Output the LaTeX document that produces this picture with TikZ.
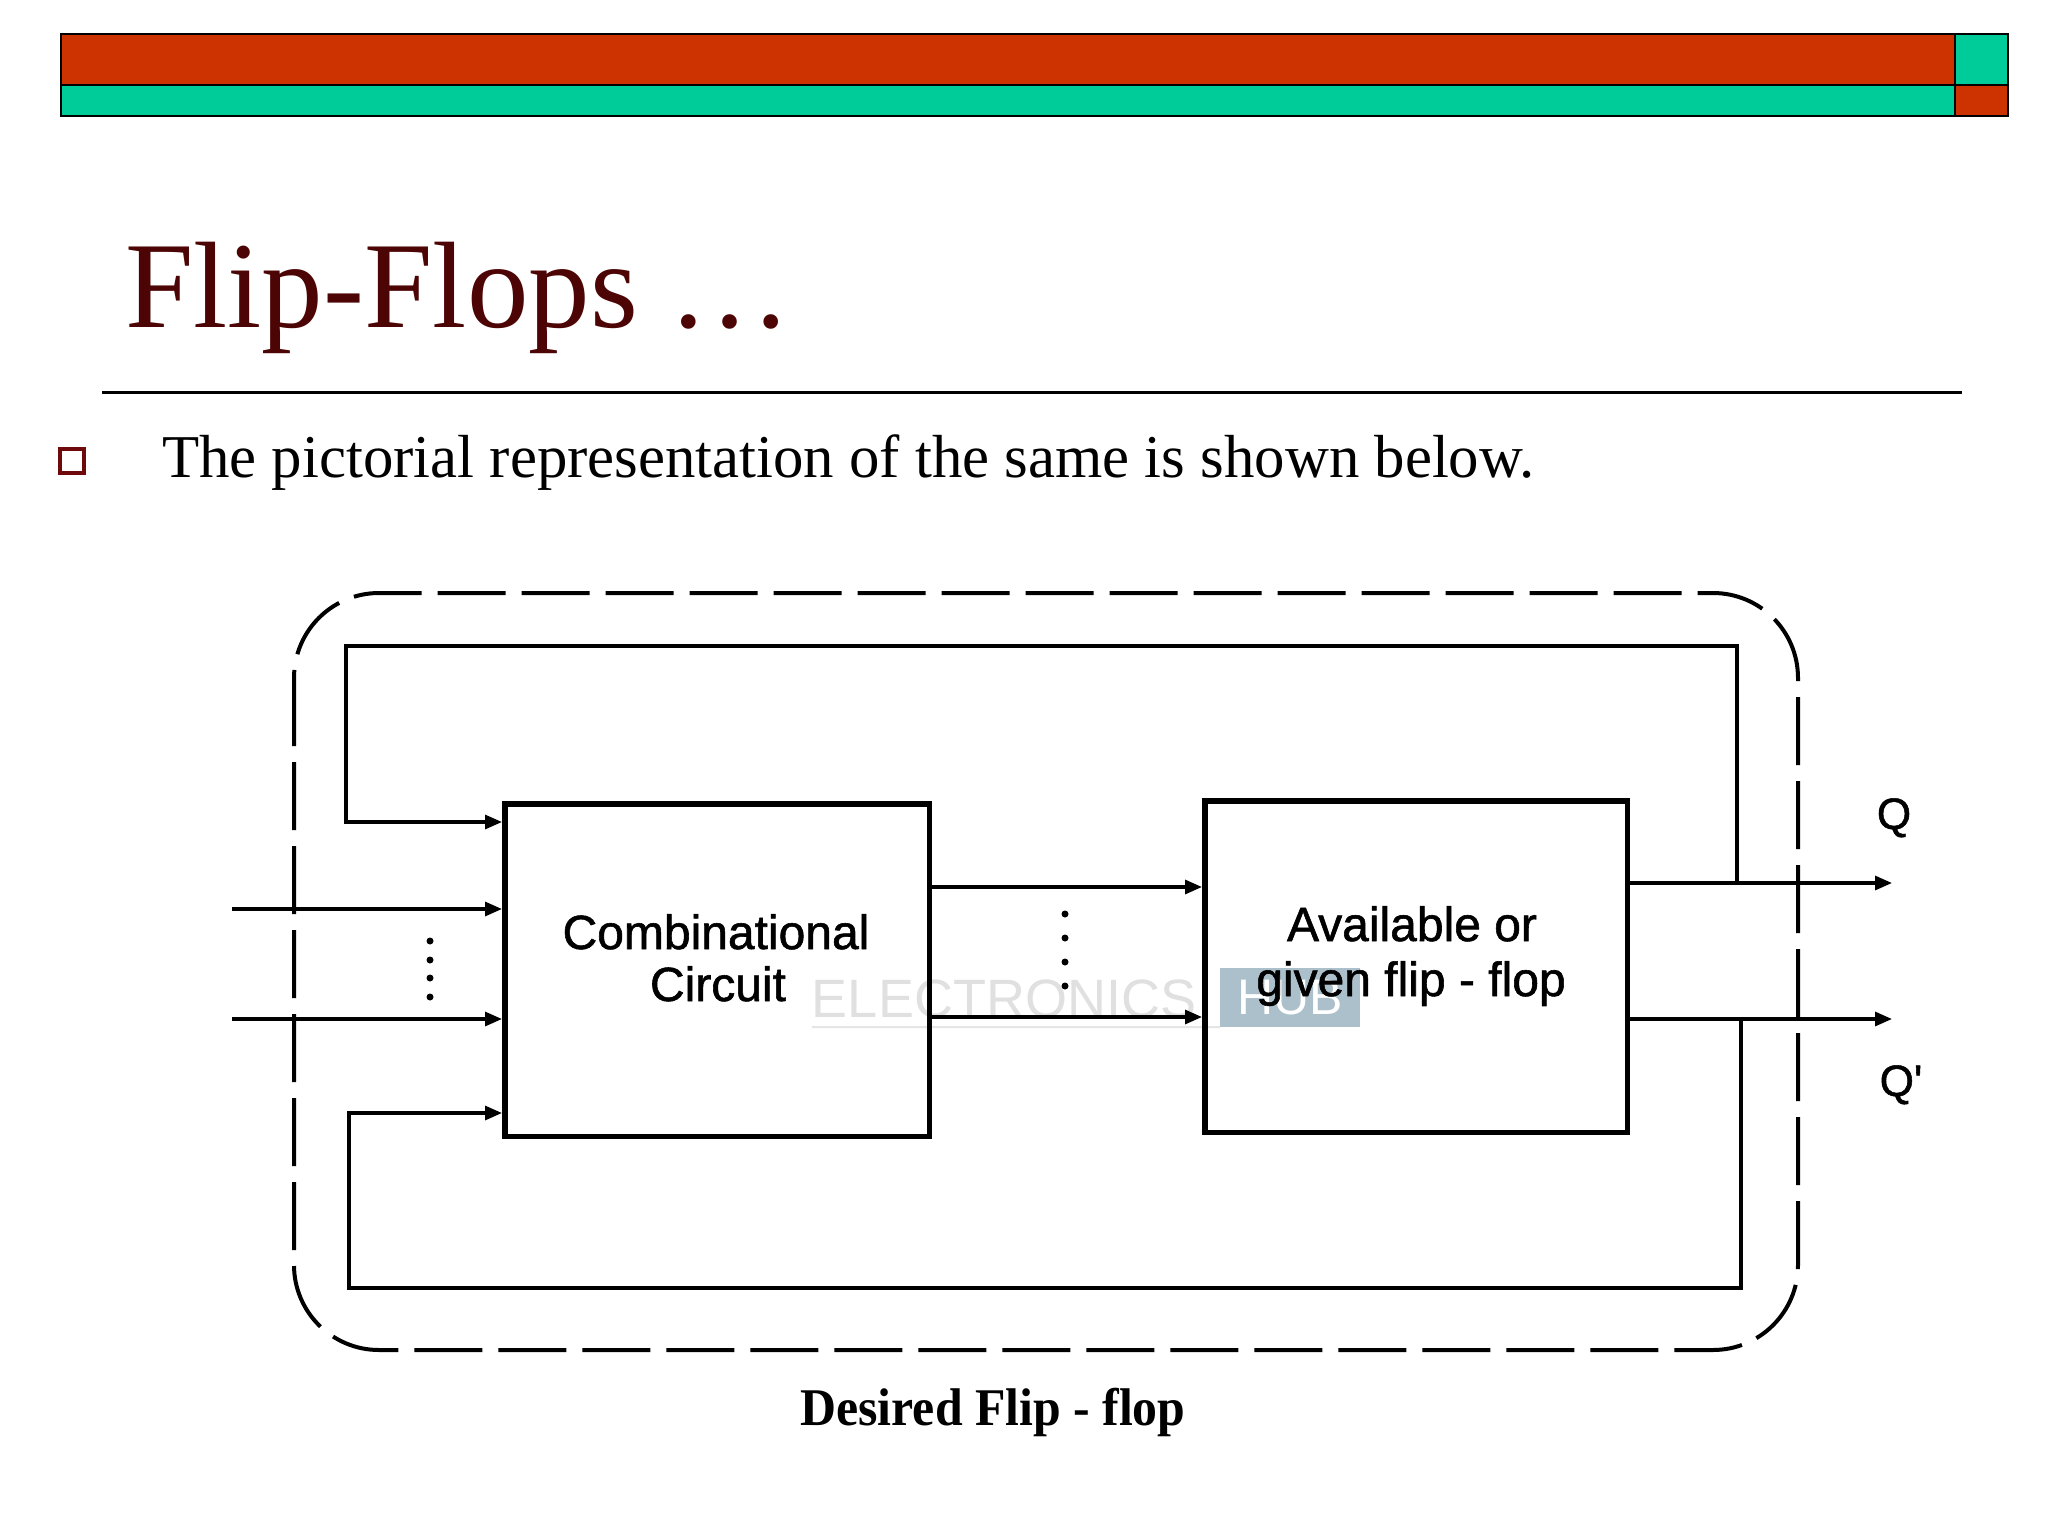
\documentclass[tikz,border=0pt]{standalone}
\usepackage{fontspec}
\usepackage{graphicx}
\setmainfont{Liberation Serif}
\newfontfamily\arialf{Liberation Sans}
\newfontfamily\arialfb[FakeBold=1.2]{Liberation Sans}
\usetikzlibrary{arrows.meta}
\definecolor{barred}{RGB}{204,51,0}
\definecolor{barteal}{RGB}{0,204,153}
\definecolor{titlecol}{RGB}{77,4,4}
\definecolor{bulletcol}{RGB}{110,10,10}
\definecolor{wmblue}{RGB}{172,192,204}
\begin{document}
\begin{tikzpicture}[x=1pt,y=-1pt,
  bar/.style={draw=black,line width=2.5pt},
  blockbox/.style={draw=black,line width=5.5pt,rectangle,inner sep=0pt},
  wire/.style={draw=black,line width=3.2pt},
  arr/.style={wire,-{Triangle[length=17pt,width=14pt]}},
  lbl/.style={font=\arialfb\fontsize{48}{52}\selectfont,inner sep=0pt,anchor=base},
  qlbl/.style={font=\arialfb\fontsize{44}{48}\selectfont,inner sep=0pt,anchor=base},
  dotmark/.style={circle,fill=black,inner sep=0pt,minimum size=7pt},
  outline/.style={draw=black,line width=4pt,dash pattern=on 68pt off 16pt,rounded corners=85pt},
]
\useasboundingbox (0,0) rectangle (2048,1536);
\fill[white] (0,0) rectangle (2048,1536);

% header bars
\filldraw[bar,fill=barred] (61,34) rectangle (1955,85);
\filldraw[bar,fill=barteal] (61,85) rectangle (1955,116);
\filldraw[bar,fill=barteal] (1955,34) rectangle (2008,85);
\filldraw[bar,fill=barred] (1955,85) rectangle (2008,116);

% title and rule
\node[anchor=base west,inner sep=0pt,text=titlecol,font=\fontsize{123}{130}\selectfont] (title) at (125,327) {Flip-Flops …};
\draw[line width=3pt] (102,392) -- (1962,392);

% bullet line
\node[draw=bulletcol,line width=4pt,fill=white,minimum size=24pt,inner sep=0pt] (bullet) at (72,461) {};
\node[anchor=base west,inner sep=0pt,font=\fontsize{60.8}{66}\selectfont] (body) at (162,477) {The pictorial representation of the same is shown below.};

% watermark
\node[anchor=base,inner sep=0pt,text=black!12,font=\arialf\fontsize{54}{58}\selectfont] (wm) at (1004,1017) {ELECTRONICS};
\node[fill=wmblue,minimum width=140pt,minimum height=59pt,inner sep=0pt,text=white,font=\arialf\fontsize{50}{54}\selectfont] (wmhub) at (1290,997.5) {HUB};
\draw[black!10,line width=2pt] (wm.base west) ++(0,10) coordinate (wmu1) -- (wmhub.south west);

% dashed outline
\draw[outline] (294,593) rectangle (1798,1350);

% blocks
\node[blockbox,minimum width=424.5pt,minimum height=332.5pt] (comb) at (717,970) {};
\node[blockbox,minimum width=422.5pt,minimum height=331.5pt] (ff) at (1416,966.5) {};

\node[lbl] (combA) at (716,949) {Combinational};
\node[lbl] (combB) at (718,1001) {Circuit};
\node[lbl] (ffA) at (1412,941) {Available or};
\node[lbl] (ffB) at (1411,996) {given flip - flop};

% coordinates
\coordinate (in1) at (232,909);
\coordinate (in2) at (232,1019);
\coordinate (qend) at (1892,883);
\coordinate (qbend) at (1892,1019);
\coordinate (tapq) at (1737,883);
\coordinate (tapTR) at (1737,646);
\coordinate (tapTL) at (346,646);
\coordinate (fbT) at (346,822);
\coordinate (tapqb) at (1741,1019);
\coordinate (tapBR) at (1741,1288);
\coordinate (tapBL) at (349,1288);
\coordinate (fbB) at (349,1113);
\coordinate (mid1) at (1000,887);
\coordinate (mid2) at (1000,1017);

% inputs
\draw[arr] (in1) -- (in1 -| comb.west);
\draw[arr] (in2) -- (in2 -| comb.west);

% feedback loops
\draw[arr] (tapq) -- (tapTR) -- (tapTL) -- (fbT) -- (fbT -| comb.west);
\draw[arr] (tapqb) -- (tapBR) -- (tapBL) -- (fbB) -- (fbB -| comb.west);

% middle connections
\draw[arr] (mid1 -| comb.east) -- (mid1 -| ff.west);
\draw[arr] (mid2 -| comb.east) -- (mid2 -| ff.west);

% outputs
\draw[arr] (qend -| ff.east) -- (qend);
\draw[arr] (qbend -| ff.east) -- (qbend);

\node[qlbl] (qlab) at (1894,829) {Q};
\node[qlbl] (qblab) at (1901,1096) {Q'};

% dots
\foreach \yy [count=\i] in {941,960,978,997} \node[dotmark] (ldot\i) at (430,\yy) {};
\foreach \yy [count=\i] in {914,938,962,986} \node[dotmark] (mdot\i) at (1065,\yy) {};

% caption
\node[anchor=base,inner sep=0pt,font=\bfseries\fontsize{53}{57}\selectfont] (cap) at (993,1425) {\scalebox{0.94}[1]{Desired Flip - flop}};
\end{tikzpicture}
\end{document}
